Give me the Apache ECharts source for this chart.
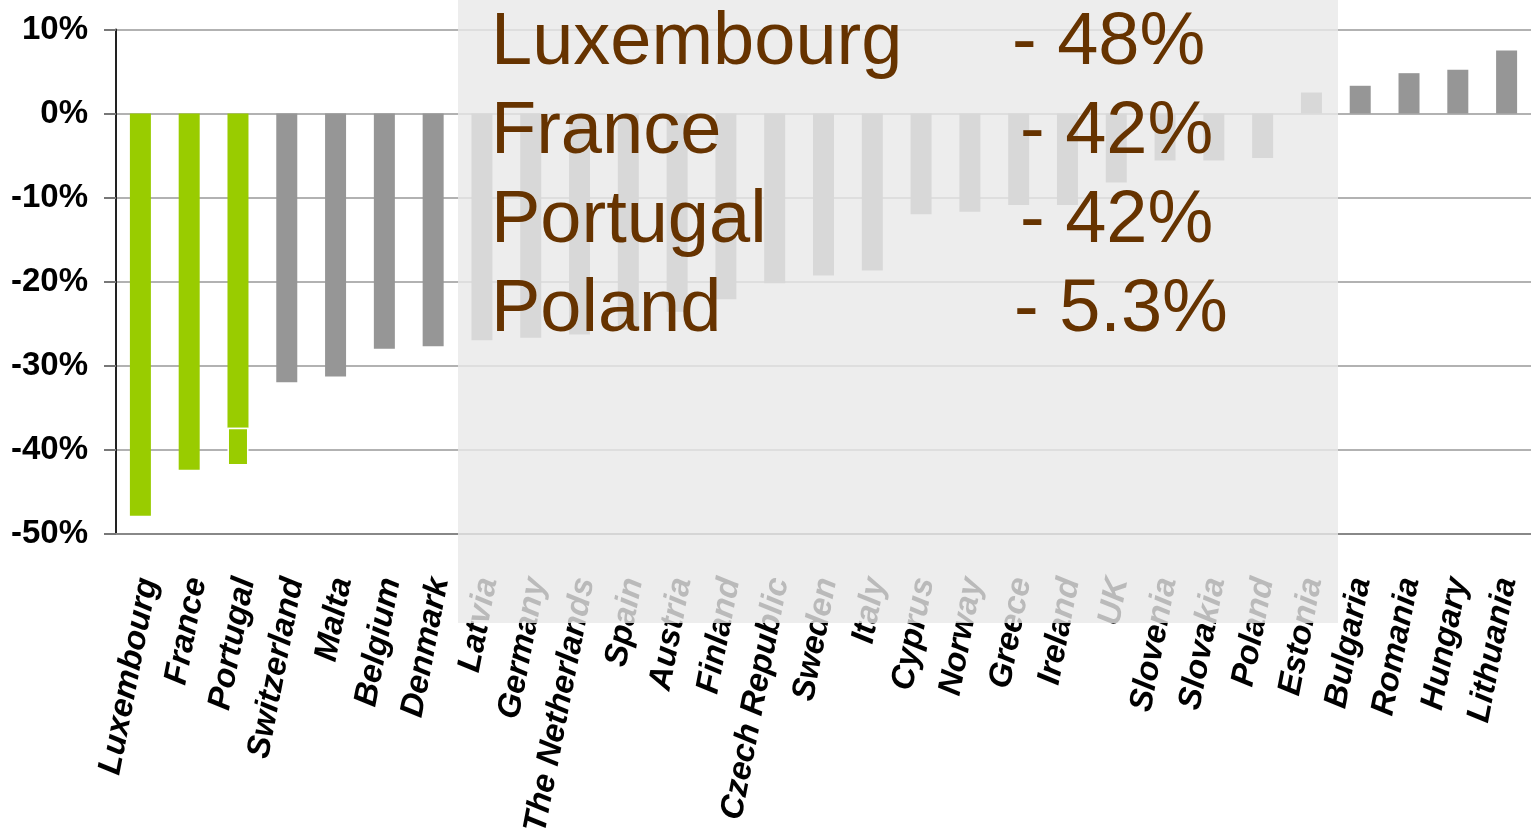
<!DOCTYPE html>
<html>
<head>
<meta charset="utf-8">
<script src="https://cdn.jsdelivr.net/npm/echarts@6/dist/echarts.min.js"></script>
<style>
  html, body { margin: 0; padding: 0; background: #fff; }
  #chart { width: 1531px; height: 838px; }
</style>
</head>
<body>
<div id="chart"></div>
<script>
// countries, sorted by change
var countries = ["Luxembourg", "France", "Portugal", "Switzerland", "Malta", "Belgium", "Denmark",
  "Latvia", "Germany", "The Netherlands", "Spain", "Austria", "Finland", "Czech Republic",
  "Sweden", "Italy", "Cyprus", "Norway", "Greece", "Ireland", "UK", "Slovenia", "Slovakia",
  "Poland", "Estonia", "Bulgaria", "Romania", "Hungary", "Lithuania"];
// change in %
var changeValues = [-47.9, -42.4, -41.9, -32.0, -31.3, -28.0, -27.7,
  -27.0, -26.7, -26.3, -25.7, -23.6, -22.1, -20.2,
  -19.3, -18.7, -12.0, -11.7, -10.9, -10.9, -8.2, -5.6, -5.6,
  -5.3, 2.5, 3.3, 4.8, 5.2, 7.5];
var greenCountries = ["Luxembourg", "France", "Portugal"];
// the Portugal bar has a white break in it
var splitCountry = "Portugal";
var splitValue = -37.4;
var yTicks = [-50, -40, -30, -20, -10, 0, 10];

// callout box text
var calloutNames = ["Luxembourg", "France", "Portugal", "Poland"];
var calloutValues = ["- 48%", "- 42%", "- 42%", "- 5.3%"];
var calloutValueX = [1012, 1020, 1020, 1014];

var font = "'Liberation Sans', Arial, sans-serif";
var green = "#99cc00";
var grey = "#969696";
var labelShift = 8; // country labels sit a bit right of the bars

var mainData = countries.map(function (c, i) {
  return c === splitCountry ? splitValue : changeValues[i];
});
var splitData = countries.map(function (c, i) {
  return c === splitCountry ? +(changeValues[i] - splitValue).toFixed(1) : "-";
});

function barColor(p) {
  return greenCountries.indexOf(p.name) >= 0 ? green : grey;
}

var graphics = [{
  type: "rect",
  z: 100,
  shape: { x: 458, y: 0, width: 880, height: 623 },
  style: { fill: "rgba(233,233,233,0.8)" }
}];
calloutNames.forEach(function (n, i) {
  var y = 44 + i * 89;
  graphics.push({
    type: "text", z: 101, x: 491, y: y,
    style: { text: n, font: "74px " + font, fill: "#663300", textAlign: "left", textVerticalAlign: "middle", verticalAlign: "middle" }
  });
  graphics.push({
    type: "text", z: 101, x: calloutValueX[i], y: y,
    style: { text: calloutValues[i], font: "74px " + font, fill: "#663300", textAlign: "left", textVerticalAlign: "middle", verticalAlign: "middle" }
  });
});

var chart = echarts.init(document.getElementById("chart"));
chart.setOption({
  animation: false,
  backgroundColor: "#fff",
  grid: [
    { left: 116, right: -12, top: 29.5, bottom: 304.5 },
    { left: 116 + labelShift, right: -12 - labelShift, top: 29.5, bottom: 304.5 }
  ],
  xAxis: [{
    type: "category",
    data: countries,
    position: "bottom",
    axisLine: { onZero: false, lineStyle: { color: "#888", width: 2 } },
    axisTick: { show: false },
    axisLabel: { show: false }
  }, {
    gridIndex: 1,
    type: "category",
    data: countries,
    position: "bottom",
    axisLine: { show: false },
    axisTick: { show: false },
    axisLabel: {
      interval: 0,
      rotate: 79,
      margin: 45,
      color: "#000",
      fontSize: 33,
      fontWeight: "bold",
      fontStyle: "italic",
      fontFamily: font
    }
  }],
  yAxis: [{
    type: "value",
    min: yTicks[0],
    max: yTicks[yTicks.length - 1],
    interval: 10,
    axisLine: { show: true, lineStyle: { color: "#222", width: 2 } },
    axisTick: { show: true, length: 12, lineStyle: { color: "#777", width: 2 } },
    splitLine: { lineStyle: { color: "#999", width: 1.5 } },
    axisLabel: {
      margin: 28,
      color: "#000",
      fontSize: 33,
      fontWeight: "bold",
      fontFamily: font,
      formatter: function (v) { return v + "%"; }
    }
  }, {
    gridIndex: 1,
    type: "value",
    min: yTicks[0],
    max: yTicks[yTicks.length - 1],
    interval: 10,
    show: false
  }],
  series: [
    {
      name: "change",
      type: "bar",
      stack: "c",
      barWidth: 21,
      data: mainData,
      itemStyle: { color: barColor }
    },
    {
      name: "split",
      type: "bar",
      stack: "c",
      barWidth: 21,
      data: splitData,
      itemStyle: { color: barColor, borderColor: "#fff", borderWidth: 1.5 }
    }
  ],
  graphic: graphics
});
</script>
</body>
</html>
